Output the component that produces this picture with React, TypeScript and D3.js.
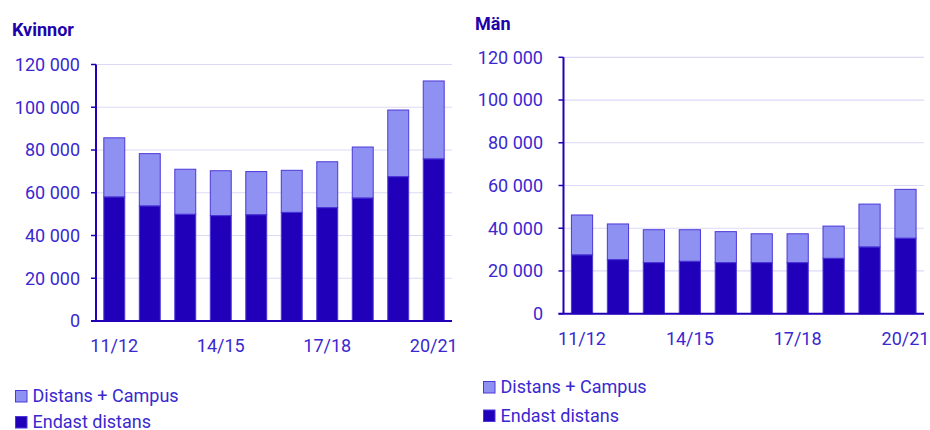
import React from "react";
import * as d3 from "d3";

const categories = ["11/12", "12/13", "13/14", "14/15", "15/16", "16/17", "17/18", "18/19", "19/20", "20/21"];
const tickLabels = ["11/12", "14/15", "17/18", "20/21"];
const yTicks = [0, 20000, 40000, 60000, 80000, 100000, 120000];

const womenDistOnly = [58000, 53800, 49900, 49300, 49700, 50800, 53000, 57500, 67500, 75800];
const womenTotal = [85700, 78300, 71000, 70300, 69900, 70500, 74500, 81400, 98700, 112300];
const menDistOnly = [27500, 25300, 23900, 24500, 23900, 23900, 23900, 25900, 31200, 35300];
const menTotal = [46200, 42000, 39300, 39300, 38400, 37400, 37400, 41000, 51300, 58200];

const seriesNames = ["Distans + Campus", "Endast distans"];

const DARK = "#2100b9";
const LIGHT = "#8f91f2";
const STROKE = "#4b38d8";
const TEXT = "#3a28d0";
const AXIS = "#2200b8";
const GRID = "#dcd9f7";
const TITLE = "#2200aa";

const fmt = (v: number) => (v === 0 ? "0" : d3.format(",")(v).replace(/,/g, " "));

type PanelProps = {
  title: string;
  titleX: number;
  titleY: number;
  x0: number;
  x1: number;
  yTop: number;
  yBottom: number;
  labelRight: number;
  xLabelY: number;
  dist: number[];
  total: number[];
  legendX: number;
  legendY: number;
  legendGap: number;
};

function Panel(p: PanelProps) {
  const x = d3.scaleBand<string>().domain(categories).range([p.x0, p.x1]).paddingInner(0.41).paddingOuter(0.22);
  const y = d3.scaleLinear().domain([0, 120000]).range([p.yBottom, p.yTop]);
  const font = "Roboto, sans-serif";
  const fs = 18;
  return (
    <g>
      <text x={p.titleX} y={p.titleY} fontFamily={font} fontWeight="bold" fontSize={18} fill={TITLE}>
        {p.title}
      </text>
      {yTicks.map((t) => (
        <g key={t}>
          {t > 0 && <line x1={p.x0} x2={p.x1} y1={y(t)} y2={y(t)} stroke={GRID} strokeWidth={1.2} />}
          <line x1={p.x0 - 5} x2={p.x0} y1={y(t)} y2={y(t)} stroke={AXIS} strokeWidth={1.5} />
          <text x={p.labelRight} y={y(t)} dy="0.35em" textAnchor="end" fontFamily={font} fontSize={fs} fill={TEXT}>
            {fmt(t)}
          </text>
        </g>
      ))}
      {categories.map((c, i) => (
        <g key={c}>
          <rect x={x(c)} y={y(p.total[i])} width={x.bandwidth()} height={y(p.dist[i]) - y(p.total[i])} fill={LIGHT} stroke={STROKE} strokeWidth={1} />
          <rect x={x(c)} y={y(p.dist[i])} width={x.bandwidth()} height={y(0) - y(p.dist[i])} fill={DARK} stroke={STROKE} strokeWidth={1} />
        </g>
      ))}
      <line x1={p.x0} x2={p.x0} y1={p.yTop} y2={p.yBottom} stroke={AXIS} strokeWidth={2} />
      <line x1={p.x0 - 5} x2={p.x1} y1={p.yBottom} y2={p.yBottom} stroke={AXIS} strokeWidth={2} />
      {tickLabels.map((t) => (
        <text key={t} x={(x(t) as number) + x.bandwidth() / 2} y={p.xLabelY} textAnchor="middle" fontFamily={font} fontSize={fs} fill={TEXT}>
          {t}
        </text>
      ))}
      {seriesNames.map((s, i) => (
        <g key={s}>
          <rect x={p.legendX} y={p.legendY + i * p.legendGap - 11.5} width={11.5} height={11.5} fill={i === 0 ? LIGHT : DARK} stroke={STROKE} strokeWidth={1} />
          <text x={p.legendX + 17} y={p.legendY + i * p.legendGap} fontFamily={font} fontSize={fs} fill={TEXT}>
            {s}
          </text>
        </g>
      ))}
    </g>
  );
}

export default function App() {
  return (
    <svg width={930} height={430} style={{ position: "absolute", left: 0, top: 0, background: "#fff" }}>
      <Panel
        title="Kvinnor"
        titleX={12}
        titleY={36}
        x0={96}
        x1={452}
        yTop={64.5}
        yBottom={321}
        labelRight={80}
        xLabelY={352}
        dist={womenDistOnly}
        total={womenTotal}
        legendX={15.5}
        legendY={402}
        legendGap={26}
      />
      <Panel
        title="Män"
        titleX={475}
        titleY={30}
        x0={563.5}
        x1={924}
        yTop={57.3}
        yBottom={313.7}
        labelRight={543}
        xLabelY={345}
        dist={menDistOnly}
        total={menTotal}
        legendX={483.5}
        legendY={393}
        legendGap={28.5}
      />
    </svg>
  );
}
